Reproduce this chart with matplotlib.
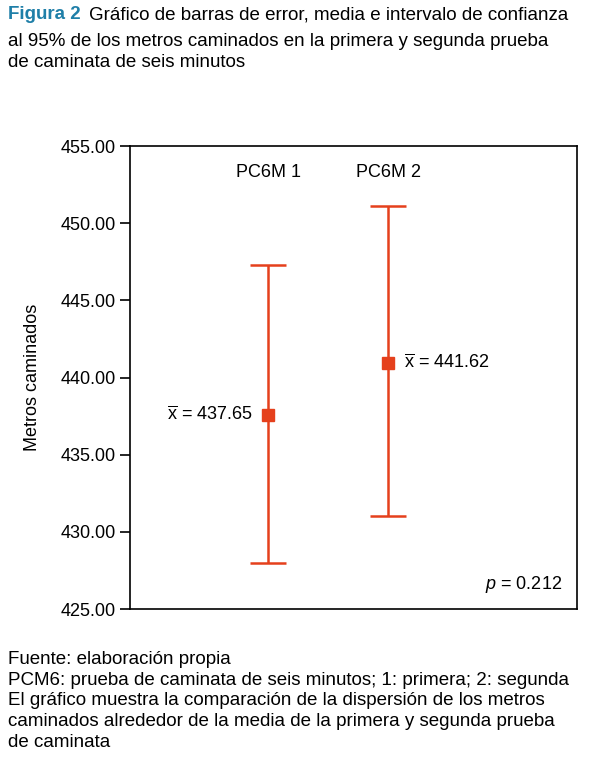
import matplotlib
matplotlib.use("Agg")
import matplotlib.pyplot as plt

groups = ["PC6M 1", "PC6M 2"]
means = [437.65, 441.62]
plot_means = [437.6, 440.95]  # where the squares sit in the reference
lower = [428.0, 431.0]
upper = [447.3, 451.1]
yticks = [425, 430, 435, 440, 445, 450, 455]
red = "#E5401C"

plt.rcParams["font.family"] = ["Liberation Sans", "DejaVu Sans"]
plt.rcParams["mathtext.fontset"] = "custom"
plt.rcParams["mathtext.rm"] = "Liberation Sans"
plt.rcParams["mathtext.it"] = "Liberation Sans:italic"
fig = plt.figure(figsize=(6, 7.82), dpi=100)
ax = fig.add_axes([0.217, 0.2212, 0.745, 0.592])

xs = [1, 2]
for x, m, lo, hi, g in zip(xs, plot_means, lower, upper, groups):
    ax.errorbar(x, m, yerr=[[m - lo], [hi - m]], fmt="s", color=red, ms=8,
                capsize=13, elinewidth=1.8, capthick=1.8)
    ax.text(x, 453.3, g, ha="center", va="center", fontsize=13)
xbar = r"$\overline{\mathrm{x}}$"
ax.text(0.87, plot_means[0], f"{xbar} = {means[0]:.2f}", ha="right", va="center", fontsize=13)
ax.text(2.13, plot_means[1], f"{xbar} = {means[1]:.2f}", ha="left", va="center", fontsize=13)
ax.text(3.45, 426.6, "$p$ = 0.212", ha="right", va="center", fontsize=13)

ax.set_xlim(-0.153, 3.578)
ax.set_ylim(425, 455)
ax.set_xticks([])
ax.set_yticks(yticks)
ax.set_yticklabels([f"{v:.2f}" for v in yticks], fontsize=13)
ax.set_ylabel("Metros caminados", fontsize=13, labelpad=14)
ax.tick_params(axis="y", length=7, width=1.2)
for s in ax.spines.values():
    s.set_linewidth(1.2)

fig.text(0.013, 0.992, "Figura 2", color="#1F7FA8", fontweight="bold", fontsize=13.5, va="top")
fig.text(0.148, 0.992, "Gráfico de barras de error, media e intervalo de confianza",
         fontsize=13.5, va="top")
fig.text(0.013, 0.958, "al 95% de los metros caminados en la primera y segunda prueba\n"
         "de caminata de seis minutos", fontsize=13.5, va="top", linespacing=1.3)
fig.text(0.013, 0.168, "Fuente: elaboración propia\n"
         "PCM6: prueba de caminata de seis minutos; 1: primera; 2: segunda\n"
         "El gráfico muestra la comparación de la dispersión de los metros\n"
         "caminados alrededor de la media de la primera y segunda prueba\n"
         "de caminata", fontsize=13.5, va="top", linespacing=1.3)

fig.savefig("out.png", dpi=100)
